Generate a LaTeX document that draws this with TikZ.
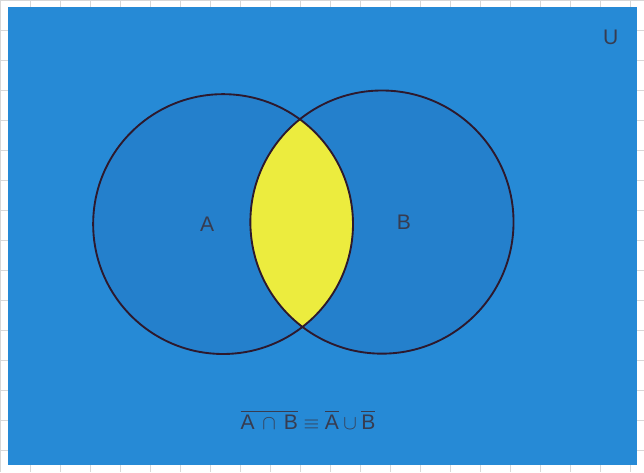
\documentclass[tikz,border=0pt]{standalone}
\usepackage{amsmath}
\usepackage{fontspec}
\setmainfont{Liberation Sans}
\usetikzlibrary{positioning}
\definecolor{SheetBlue}{RGB}{38, 138, 214}
\definecolor{SetBlue}{RGB}{36, 128, 204}
\definecolor{LensYellow}{RGB}{236, 236, 62}
\definecolor{InkDark}{RGB}{45, 25, 45}
\definecolor{TextGrey}{RGB}{55, 60, 80}
\definecolor{PaperGrid}{RGB}{215, 215, 215}

\tikzset{
  setline/.style={line width=1.6pt, draw=InkDark},
  setlabel/.style={text=TextGrey, font=\fontsize{18}{20}\selectfont, inner sep=0pt}
}

\begin{document}
\begin{tikzpicture}[x=0.03cm, y=-0.03cm]
    % paper and grid
    \fill[white] (0,0) rectangle (644,472);
    \draw[PaperGrid, line width=0.4pt, step=0.9cm] (0,0) grid (644,472);
    \useasboundingbox (0,0) rectangle (644,472);
    % universe
    \fill[SheetBlue] (8,7) rectangle (637,465);
    \coordinate (ca) at (223,224);
    \coordinate (cb) at (382,222);
    \fill[SetBlue] (ca) circle (3.9cm);
    \fill[SetBlue] (cb) circle (3.95cm);
    \begin{scope}
      \clip (ca) circle (3.9cm);
      \fill[LensYellow] (cb) circle (3.95cm);
    \end{scope}
    \draw[setline] (ca) circle (3.9cm);
    \draw[setline] (cb) circle (3.95cm);
    % labels
    \node[setlabel] (lu) at (611,37) {U};
    \node[setlabel] (la) at (207,224) {A};
    \node[setlabel] (lb) at (404,222) {B};
    \node[setlabel] (law) at (308,420)
      {$\overline{\text{A}\,\cap\,\text{B}}\equiv\overline{\text{A}}\cup\overline{\text{B}}$};
  \end{tikzpicture}
\end{document}
